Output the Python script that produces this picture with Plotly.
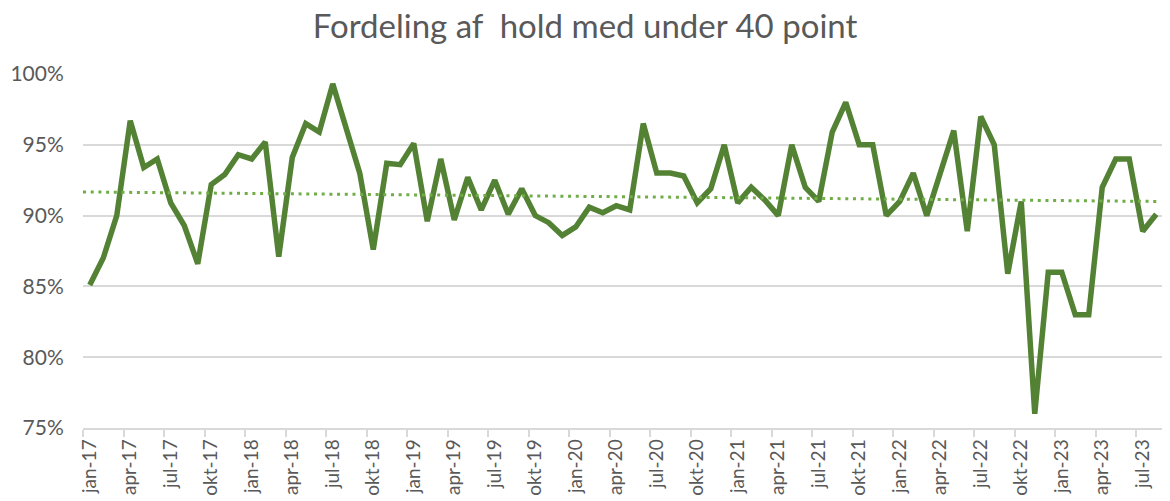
import numpy as np
import plotly.graph_objects as go

# ---- data ----
months = ["jan", "feb", "mar", "apr", "maj", "jun", "jul", "aug", "sep", "okt", "nov", "dec"]
years = ["17", "18", "19", "20", "21", "22", "23"]
categories = [f"{m}-{y}" for y in years for m in months][:80]  # jan-17 .. aug-23

values = [
    85.1, 87.0, 90.0, 96.7, 93.4, 94.0, 90.9, 89.3, 86.6, 92.2, 92.9, 94.3,   # 2017
    94.0, 95.2, 87.1, 94.1, 96.5, 95.9, 99.3, 96.3, 93.0, 87.6, 93.7, 93.6,   # 2018
    95.1, 89.6, 94.0, 89.7, 92.7, 90.4, 92.5, 90.1, 91.9, 90.0, 89.5, 88.6,   # 2019
    89.2, 90.6, 90.2, 90.7, 90.4, 96.5, 93.0, 93.0, 92.8, 90.9, 91.9, 95.0,   # 2020
    90.9, 92.0, 91.1, 90.0, 95.0, 92.0, 91.0, 95.9, 98.0, 95.0, 95.0, 90.0,   # 2021
    91.0, 93.0, 90.0, 93.0, 96.0, 88.9, 97.0, 95.0, 85.9, 91.0, 76.0, 86.0,   # 2022
    86.0, 83.0, 83.0, 92.0, 94.0, 94.0, 88.9, 90.1,                           # 2023
]
values = [v / 100 for v in values]

# dotted trend line as drawn in the picture (start / end level, in %)
trend_levels = [91.67, 91.0]

label_step = 3
y_ticks = [0.75, 0.80, 0.85, 0.90, 0.95, 1.00]
title_text = "Fordeling af  hold med under 40 point"

# ---- derived ----
idx = np.arange(len(values))
trend_x = [-0.5, int(idx[-1])]
trend_y = [v / 100 for v in trend_levels]

tickvals = list(idx[::label_step])
ticktext = [categories[i] for i in tickvals]
boundaries = [i - 0.5 for i in idx[::label_step]]

LINE = "#548235"
TREND = "#70AD47"
GRID = "#D9D9D9"
TEXT = "#595959"
FONT = "Lato"

# the page body has an 8px margin; size the figure so it fills the window
W, H = 1162, 493

fig = go.Figure()
fig.add_trace(go.Scatter(
    x=idx, y=values, mode="lines",
    line=dict(color=LINE, width=5.5, shape="linear"),
    hoverinfo="skip", showlegend=False,
))
fig.add_trace(go.Scatter(
    x=trend_x, y=trend_y, mode="lines",
    line=dict(color=TREND, width=3, dash="3px,4.7px"),
    hoverinfo="skip", showlegend=False,
))

fig.update_layout(
    width=W, height=H,
    margin=dict(l=75, r=7, t=66, b=73, autoexpand=False),
    paper_bgcolor="white", plot_bgcolor="white",
    title=dict(text=title_text, x=0.4966, xanchor="center", y=0.9625, yanchor="middle",
               font=dict(family=FONT, size=33, color=TEXT)),
    font=dict(family=FONT, color=TEXT),
)
fig.update_xaxes(
    range=[-0.5, len(values) - 0.5],
    tickmode="array", tickvals=tickvals, ticktext=ticktext,
    tickangle=-90, tickfont=dict(family=FONT, size=19, color=TEXT),
    ticks="outside", ticklen=2, tickcolor="rgba(0,0,0,0)",
    showline=True, linecolor=GRID, linewidth=1.5,
    showgrid=False, zeroline=False, automargin=False,
    minor=dict(tickmode="array", tickvals=boundaries, ticks="outside",
               ticklen=7, tickcolor=GRID, tickwidth=1.5, showgrid=False),
)
fig.update_yaxes(
    range=[0.75, 1.0],
    tickmode="array", tickvals=y_ticks, tickformat=".0%",
    tickfont=dict(family=FONT, size=21, color=TEXT),
    ticks="outside", ticklen=14, tickcolor="rgba(0,0,0,0)",
    showgrid=True, gridcolor=GRID, gridwidth=1.5,
    showline=False, zeroline=False, automargin=False,
)

fig.write_html("out.html")
